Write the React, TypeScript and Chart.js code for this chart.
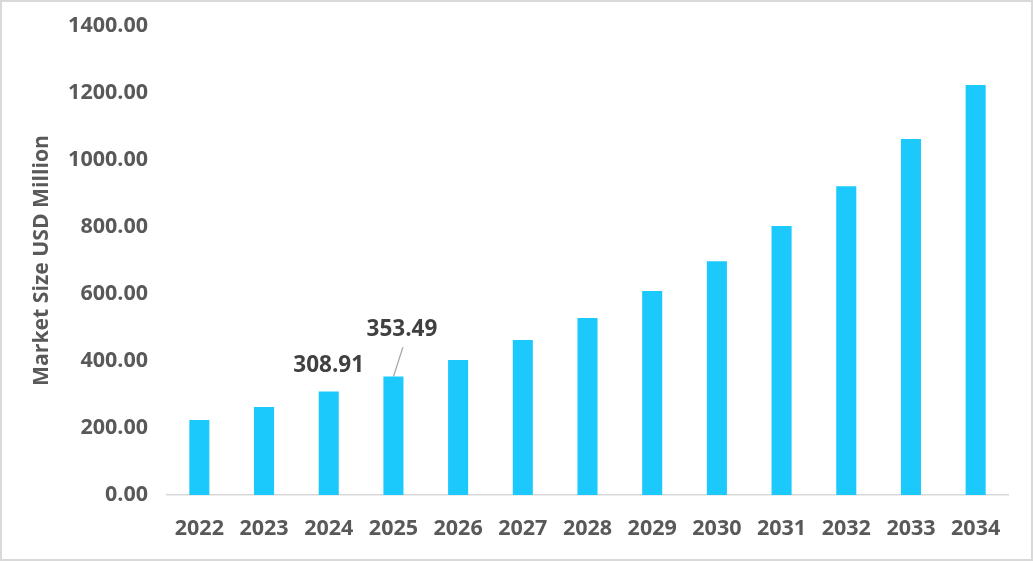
import { useEffect, useRef } from 'react';
import { Chart, registerables } from 'chart.js';

Chart.register(...registerables);

const years = ['2022', '2023', '2024', '2025', '2026', '2027', '2028', '2029', '2030', '2031', '2032', '2033', '2034'];
const marketSize = [224, 263, 308.91, 353.49, 403, 463, 528, 609, 698, 803, 922, 1063, 1224];
const labelledYears = ['2024', '2025'];
const yMax = 1400;
const yStep = 200;

const FONT = '"Open Sans", sans-serif';

// value labels above selected bars; the 2025 one sits higher with a leader line
const valueLabels = {
  id: 'valueLabels',
  afterDatasetsDraw(chart: Chart) {
    const { ctx } = chart;
    const meta = chart.getDatasetMeta(0);
    ctx.save();
    ctx.font = `bold 22.5px ${FONT}`;
    ctx.fillStyle = '#404040';
    ctx.textAlign = 'center';
    ctx.textBaseline = 'middle';
    labelledYears.forEach((yr, n) => {
      const i = years.indexOf(yr);
      const bar = meta.data[i] as any;
      const text = marketSize[i].toFixed(2);
      if (n === 0) {
        ctx.fillText(text, bar.x, bar.y - 26);
      } else {
        ctx.strokeStyle = '#a6a6a6';
        ctx.lineWidth = 1.3;
        ctx.beginPath();
        ctx.moveTo(bar.x, bar.y);
        ctx.lineTo(bar.x + 9.5, bar.y - 29.5);
        ctx.stroke();
        ctx.fillText(text, bar.x + 8.5, bar.y - 47);
      }
    });
    ctx.restore();
  },
};

export default function App() {
  const chartRef = useRef<HTMLCanvasElement>(null);
  const chartInstance = useRef<Chart | null>(null);

  useEffect(() => {
    if (!chartRef.current) return;
    if (chartInstance.current) chartInstance.current.destroy();

    chartInstance.current = new Chart(chartRef.current, {
      type: 'bar',
      data: {
        labels: years,
        datasets: [{
          data: marketSize,
          backgroundColor: '#1cc9fc',
          borderWidth: 0,
          categoryPercentage: 1,
          barPercentage: 0.31,
        }],
      },
      plugins: [valueLabels],
      options: {
        animation: false,
        responsive: true,
        maintainAspectRatio: false,
        layout: { padding: { top: 26, right: 25, bottom: 0, left: 0 } },
        plugins: {
          legend: { display: false },
          tooltip: { enabled: false },
        },
        scales: {
          x: {
            grid: { display: false, drawTicks: false },
            border: { display: true, color: '#d9d9d9', width: 1.5 },
            ticks: {
              color: '#595959',
              font: { family: FONT, size: 21.5, weight: 'bold' },
              padding: 21,
              maxRotation: 0,
            },
            afterFit(scale: any) {
              scale.height = 66;
              scale.paddingLeft = 0;
              scale.paddingRight = 0;
            },
          },
          y: {
            min: 0,
            max: yMax,
            grid: { display: false, drawTicks: false },
            border: { display: false },
            ticks: {
              stepSize: yStep,
              color: '#595959',
              font: { family: FONT, size: 21.5, weight: 'bold' },
              padding: 19,
              callback: (v: any) => Number(v).toFixed(2),
            },
            title: {
              display: true,
              text: 'Market Size USD Million',
              color: '#595959',
              font: { family: FONT, size: 21.2, weight: 'bold' },
              padding: { top: 29, bottom: 0 },
            },
            afterFit(scale: any) {
              scale.width = 167;
              scale.paddingTop = 0;
              scale.paddingBottom = 0;
            },
          },
        },
      },
    });

    return () => {
      if (chartInstance.current) {
        chartInstance.current.destroy();
        chartInstance.current = null;
      }
    };
  }, []);

  return (
    <div style={{ position: 'fixed', left: 0, top: 0, width: 1033, height: 561, background: '#fff' }}>
      <div style={{ position: 'absolute', inset: 0 }}>
        <canvas ref={chartRef} />
      </div>
      <div style={{ position: 'absolute', inset: 0, border: '2px solid #d9d9d9', boxSizing: 'border-box', pointerEvents: 'none' }} />
    </div>
  );
}
